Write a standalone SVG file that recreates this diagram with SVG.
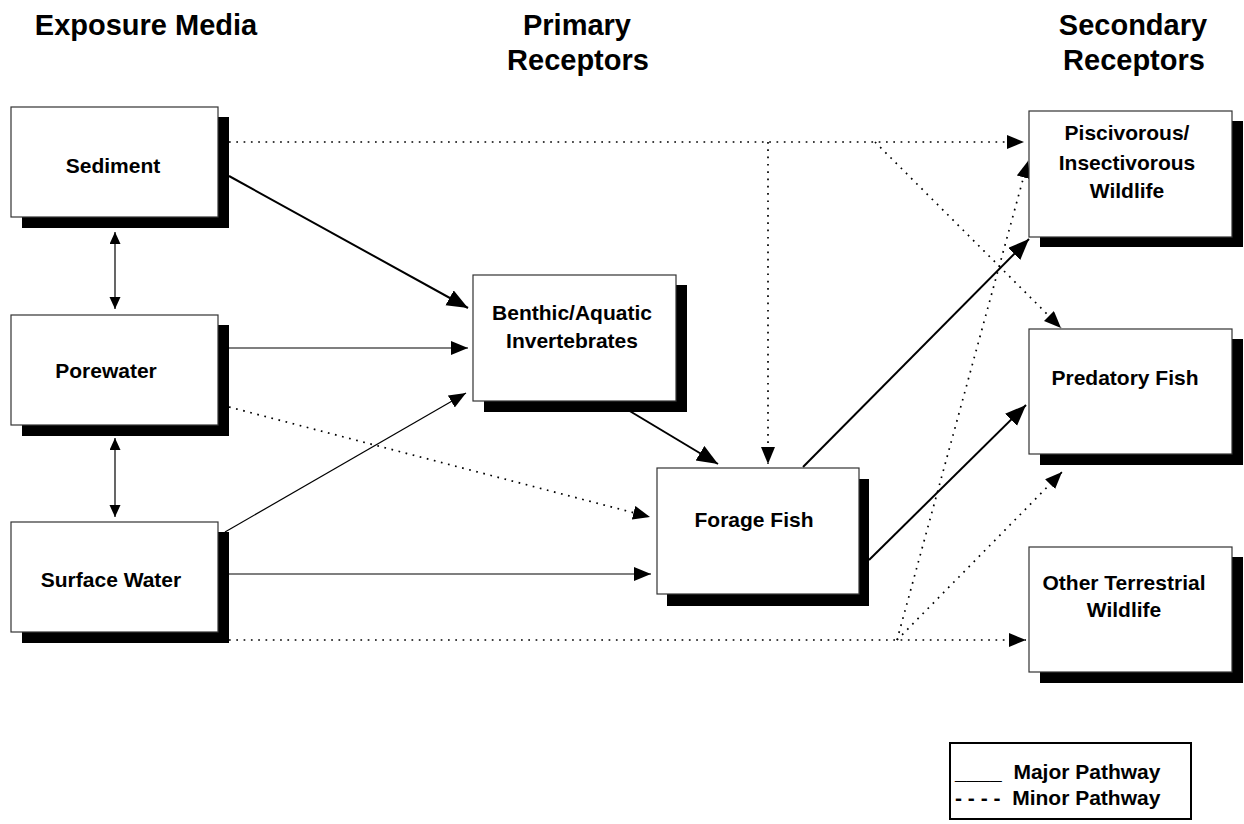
<svg xmlns="http://www.w3.org/2000/svg" width="1244" height="824" viewBox="0 0 1244 824">
<style>
.hdr{font-family:"Liberation Sans",Arial,sans-serif;font-weight:bold;font-size:29px;text-anchor:middle;fill:#000}
.lbl{font-family:"Liberation Sans",Arial,sans-serif;font-weight:bold;font-size:21px;text-anchor:middle;fill:#000}
.leg{font-family:"Liberation Sans",Arial,sans-serif;font-weight:bold;font-size:21px;fill:#000}
.box{fill:#fff;stroke:#333;stroke-width:1.2}
.shadow{fill:#000}
.major{stroke:#000;stroke-width:2;fill:none}
.thin{stroke:#000;stroke-width:1.2;fill:none}
.minor{stroke:#000;stroke-width:1.7;fill:none;stroke-dasharray:1.7 5.6}
</style>
<defs>
<marker id="big" markerUnits="userSpaceOnUse" markerWidth="22" markerHeight="18" refX="21" refY="8.5" orient="auto"><path d="M0,0 L21,8.5 L0,17 z" fill="#000"/></marker>
<marker id="med" markerUnits="userSpaceOnUse" markerWidth="18" markerHeight="15" refX="17" refY="7" orient="auto"><path d="M0,0 L17,7 L0,14 z" fill="#000"/></marker>
<marker id="sm" markerUnits="userSpaceOnUse" markerWidth="13" markerHeight="12" refX="12" refY="5.5" orient="auto-start-reverse"><path d="M0,0 L12,5.5 L0,11 z" fill="#000"/></marker>
</defs>
<rect width="1244" height="824" fill="#fff"/>
<g id="headers">
<text class="hdr" x="146" y="35">Exposure Media</text>
<text class="hdr" x="577" y="35">Primary</text>
<text class="hdr" x="578" y="70">Receptors</text>
<text class="hdr" x="1133" y="35">Secondary</text>
<text class="hdr" x="1134" y="70">Receptors</text>
</g>
<g id="connectors">
<line class="thin" x1="115" y1="232" x2="115" y2="309" marker-start="url(#sm)" marker-end="url(#sm)"/>
<line class="thin" x1="115" y1="438" x2="115" y2="517" marker-start="url(#sm)" marker-end="url(#sm)"/>
<line class="major" x1="229" y1="176" x2="468" y2="308" marker-end="url(#big)"/>
<line class="major" x1="628" y1="410" x2="718" y2="464" marker-end="url(#big)"/>
<line class="major" x1="803" y1="467" x2="1029" y2="239" marker-end="url(#big)"/>
<line class="major" x1="869" y1="560" x2="1026" y2="405" marker-end="url(#big)"/>
<line class="thin" x1="218" y1="348" x2="468" y2="348" marker-end="url(#med)"/>
<line class="thin" x1="225" y1="532" x2="466" y2="393" marker-end="url(#med)"/>
<line class="thin" x1="229" y1="574" x2="651" y2="574" marker-end="url(#med)"/>
<line class="minor" x1="229" y1="142" x2="1024" y2="142" marker-end="url(#med)"/>
<line class="minor" x1="768" y1="142" x2="768" y2="464" marker-end="url(#med)"/>
<line class="minor" x1="875" y1="142" x2="1061" y2="328" marker-end="url(#med)"/>
<line class="minor" x1="229" y1="407" x2="650" y2="517" marker-end="url(#med)"/>
<line class="minor" x1="229" y1="640" x2="1026" y2="640" marker-end="url(#med)"/>
<line class="minor" x1="897" y1="640" x2="1028" y2="161" marker-end="url(#med)"/>
<line class="minor" x1="897" y1="640" x2="1062" y2="472" marker-end="url(#med)"/>
</g>
<g id="sediment">
<rect class="shadow" x="22" y="117" width="207" height="111"/>
<rect class="box" x="11" y="107" width="207" height="110"/>
<text class="lbl" x="113" y="173">Sediment</text>
</g>
<g id="porewater">
<rect class="shadow" x="22" y="325" width="207" height="111"/>
<rect class="box" x="11" y="315" width="207" height="110"/>
<text class="lbl" x="106" y="378">Porewater</text>
</g>
<g id="surface-water">
<rect class="shadow" x="22" y="532" width="207" height="111"/>
<rect class="box" x="11" y="522" width="207" height="110"/>
<text class="lbl" x="111" y="587">Surface Water</text>
</g>
<g id="benthic">
<rect class="shadow" x="484" y="285" width="203" height="127"/>
<rect class="box" x="473" y="275" width="203" height="126"/>
<text class="lbl" x="572" y="320">Benthic/Aquatic</text>
<text class="lbl" x="572" y="348">Invertebrates</text>
</g>
<g id="forage-fish">
<rect class="shadow" x="667" y="479" width="202" height="127"/>
<rect class="box" x="657" y="468" width="202" height="126"/>
<text class="lbl" x="754" y="527">Forage Fish</text>
</g>
<g id="piscivorous">
<rect class="shadow" x="1040" y="121" width="203" height="126"/>
<rect class="box" x="1029" y="111" width="203" height="126"/>
<text class="lbl" x="1127" y="140">Piscivorous/</text>
<text class="lbl" x="1127" y="170">Insectivorous</text>
<text class="lbl" x="1127" y="198">Wildlife</text>
</g>
<g id="predatory-fish">
<rect class="shadow" x="1040" y="339" width="203" height="126"/>
<rect class="box" x="1029" y="329" width="203" height="125"/>
<text class="lbl" x="1125" y="385">Predatory Fish</text>
</g>
<g id="other-terrestrial">
<rect class="shadow" x="1040" y="557" width="203" height="126"/>
<rect class="box" x="1029" y="547" width="203" height="125"/>
<text class="lbl" x="1124" y="590">Other Terrestrial</text>
<text class="lbl" x="1124" y="617">Wildlife</text>
</g>
<g id="legend">
<rect x="950" y="743" width="241" height="76" fill="#fff" stroke="#000" stroke-width="2"/>
<text class="leg" x="955" y="779" xml:space="preserve">____  Major Pathway</text>
<text class="leg" x="955" y="805" xml:space="preserve">- - - -  Minor Pathway</text>
</g>
</svg>
